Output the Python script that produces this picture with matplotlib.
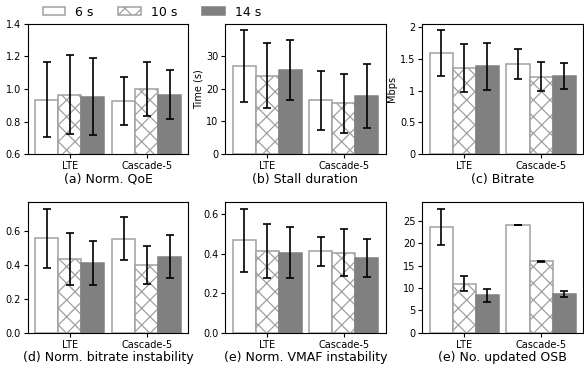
import numpy as np
import matplotlib
matplotlib.use("Agg")
import matplotlib.pyplot as plt
from matplotlib.ticker import FuncFormatter

groups = ["LTE", "Cascade-5"]
series = ["6 s", "10 s", "14 s"]

# mean values per series, [LTE, Cascade-5]
qoe_mean = [[0.935, 0.926], [0.966, 1.000], [0.953, 0.966]]
qoe_err = [[0.23, 0.149], [0.240, 0.165], [0.238, 0.149]]

stall_mean = [[26.9, 16.5], [24.0, 15.5], [25.7, 17.7]]
stall_err = [[11.0, 9.0], [10.0, 9.0], [9.1, 9.8]]

bitrate_mean = [[1.59, 1.41], [1.36, 1.22], [1.38, 1.23]]
bitrate_err = [[0.36, 0.235], [0.375, 0.225], [0.37, 0.20]]

binst_mean = [[0.557, 0.556], [0.433, 0.400], [0.411, 0.449]]
binst_err = [[0.175, 0.127], [0.153, 0.110], [0.129, 0.127]]

vinst_mean = [[0.469, 0.414], [0.413, 0.407], [0.407, 0.381]]
vinst_err = [[0.160, 0.073], [0.137, 0.121], [0.128, 0.097]]

osb_mean = [[23.7, 24.1], [11.0, 16.0], [8.4, 8.7]]
osb_err = [[4.05, 0.08], [1.75, 0.08], [1.5, 0.6]]

panels = [
    ("(a) Norm. QoE", None, qoe_mean, qoe_err),
    ("(b) Stall duration", "Time (s)", stall_mean, stall_err),
    ("(c) Bitrate", "Mbps", bitrate_mean, bitrate_err),
    ("(d) Norm. bitrate instability", None, binst_mean, binst_err),
    ("(e) Norm. VMAF instability", None, vinst_mean, vinst_err),
    ("(e) No. updated OSB", None, osb_mean, osb_err),
]

styles = [
    dict(facecolor="white", edgecolor="#a0a0a0", hatch=None),
    dict(facecolor="white", edgecolor="#a0a0a0", hatch="xx"),
    dict(facecolor="#808080", edgecolor="#808080", hatch=None),
]

plt.rcParams["hatch.linewidth"] = 0.9

fig, axes = plt.subplots(2, 3, figsize=(5.84, 3.67), dpi=100)
plt.subplots_adjust(left=0.048, right=0.998, top=0.935, bottom=0.093,
                    wspace=0.23, hspace=0.37)

x = np.arange(len(groups))
w = 0.3
for ax, (label, ylab, means, errs) in zip(axes.flat, panels):
    for i, name in enumerate(series):
        ax.bar(x + (i - 1) * w, means[i], w, yerr=errs[i], label=name,
               linewidth=1.1, capsize=3,
               error_kw=dict(ecolor="black", elinewidth=1.2, capthick=1.2),
               **styles[i])
    ax.set_xticks(x)
    ax.set_xticklabels(groups, fontsize=7)
    ax.tick_params(axis="both", labelsize=7, length=3, pad=2)
    ax.set_xlabel(label, fontsize=9, labelpad=1)
    if ylab:
        ax.set_ylabel(ylab, fontsize=7, labelpad=2)

axes[0, 0].set_ylim(0.6, 1.4)
axes[0, 0].set_yticks([0.6, 0.8, 1.0, 1.2, 1.4])
axes[0, 2].set_yticks([0, 0.5, 1, 1.5, 2])
axes[0, 2].yaxis.set_major_formatter(FuncFormatter(lambda v, p: f"{v:g}"))

handles, labels = axes[0, 0].get_legend_handles_labels()
fig.legend(handles, labels, loc="center", bbox_to_anchor=(0.26, 0.967),
           ncol=3, frameon=False, fontsize=9, handlelength=1.8,
           handleheight=0.6)

plt.savefig("out.png", dpi=100)
plt.close()
